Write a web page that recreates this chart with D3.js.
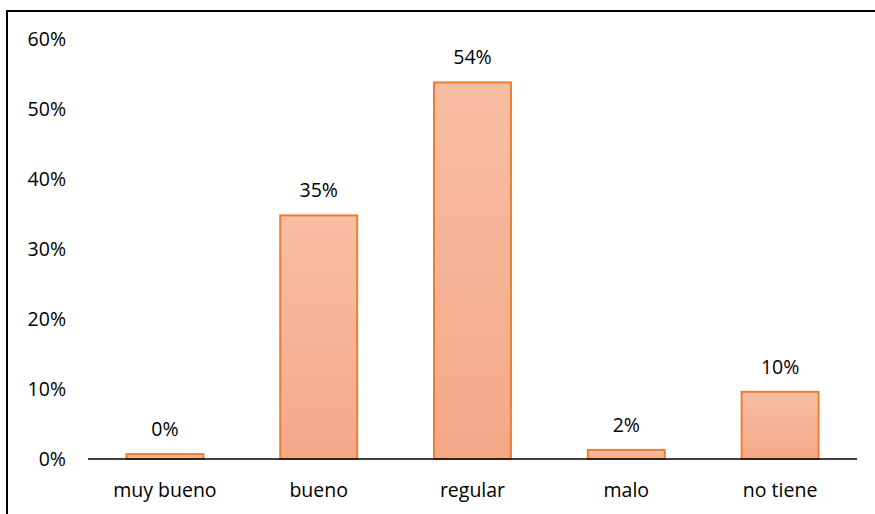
<!DOCTYPE html>
<html><head><meta charset="utf-8">
<script src="https://cdn.jsdelivr.net/npm/d3@7"></script>
<style>body{margin:0;background:#fff}svg{display:block}text{font-family:"Open Sans",Lato,sans-serif;fill:#000}</style>
</head><body><svg id="c" width="875" height="514"></svg>
<script>
const categories = ["muy bueno","bueno","regular","malo","no tiene"];
const values = [0.7, 34.8, 53.8, 1.3, 9.6];
const valueLabels = ["0%","35%","54%","2%","10%"];
const yTicks = [0,10,20,30,40,50,60];

const svg = d3.select("#c");
svg.append("rect").attr("x",7).attr("y",11).attr("width",880).attr("height",520)
  .attr("fill","none").attr("stroke","#000").attr("stroke-width",2);

const defs = svg.append("defs");
const g = defs.append("linearGradient").attr("id","bg").attr("x1",0).attr("y1",0).attr("x2",0).attr("y2",1);
g.append("stop").attr("offset","0%").attr("stop-color","#F7BEA3");
g.append("stop").attr("offset","100%").attr("stop-color","#F5A888");

const x = d3.scaleBand().domain(categories).range([88,857]).paddingInner(0.5).paddingOuter(0.25);
const y = d3.scaleLinear().domain([0,60]).range([459,39]);
const fs = "19.5px";

svg.append("g").selectAll("text").data(yTicks).join("text")
  .attr("x",66).attr("y",d=>y(d)).attr("dy","0.35em").attr("text-anchor","end")
  .style("font-size",fs).text(d=>d+"%");

svg.append("g").selectAll("rect").data(values).join("rect")
  .attr("x",(d,i)=>x(categories[i])).attr("width",x.bandwidth())
  .attr("y",d=>y(d)).attr("height",d=>y(0)-y(d))
  .attr("fill","url(#bg)").attr("stroke","#ED7D31").attr("stroke-width",2);

svg.append("line").attr("x1",88).attr("x2",857).attr("y1",y(0)).attr("y2",y(0))
  .attr("stroke","#000").attr("stroke-width",1.5);

svg.append("g").selectAll("text").data(values).join("text")
  .attr("x",(d,i)=>x(categories[i])+x.bandwidth()/2).attr("y",d=>y(d)-18)
  .attr("text-anchor","middle").style("font-size",fs).text((d,i)=>valueLabels[i]);

svg.append("g").selectAll("text").data(categories).join("text")
  .attr("x",d=>x(d)+x.bandwidth()/2).attr("y",490).attr("dy","0.35em")
  .attr("text-anchor","middle").style("font-size",fs).text(d=>d);
</script></body></html>
